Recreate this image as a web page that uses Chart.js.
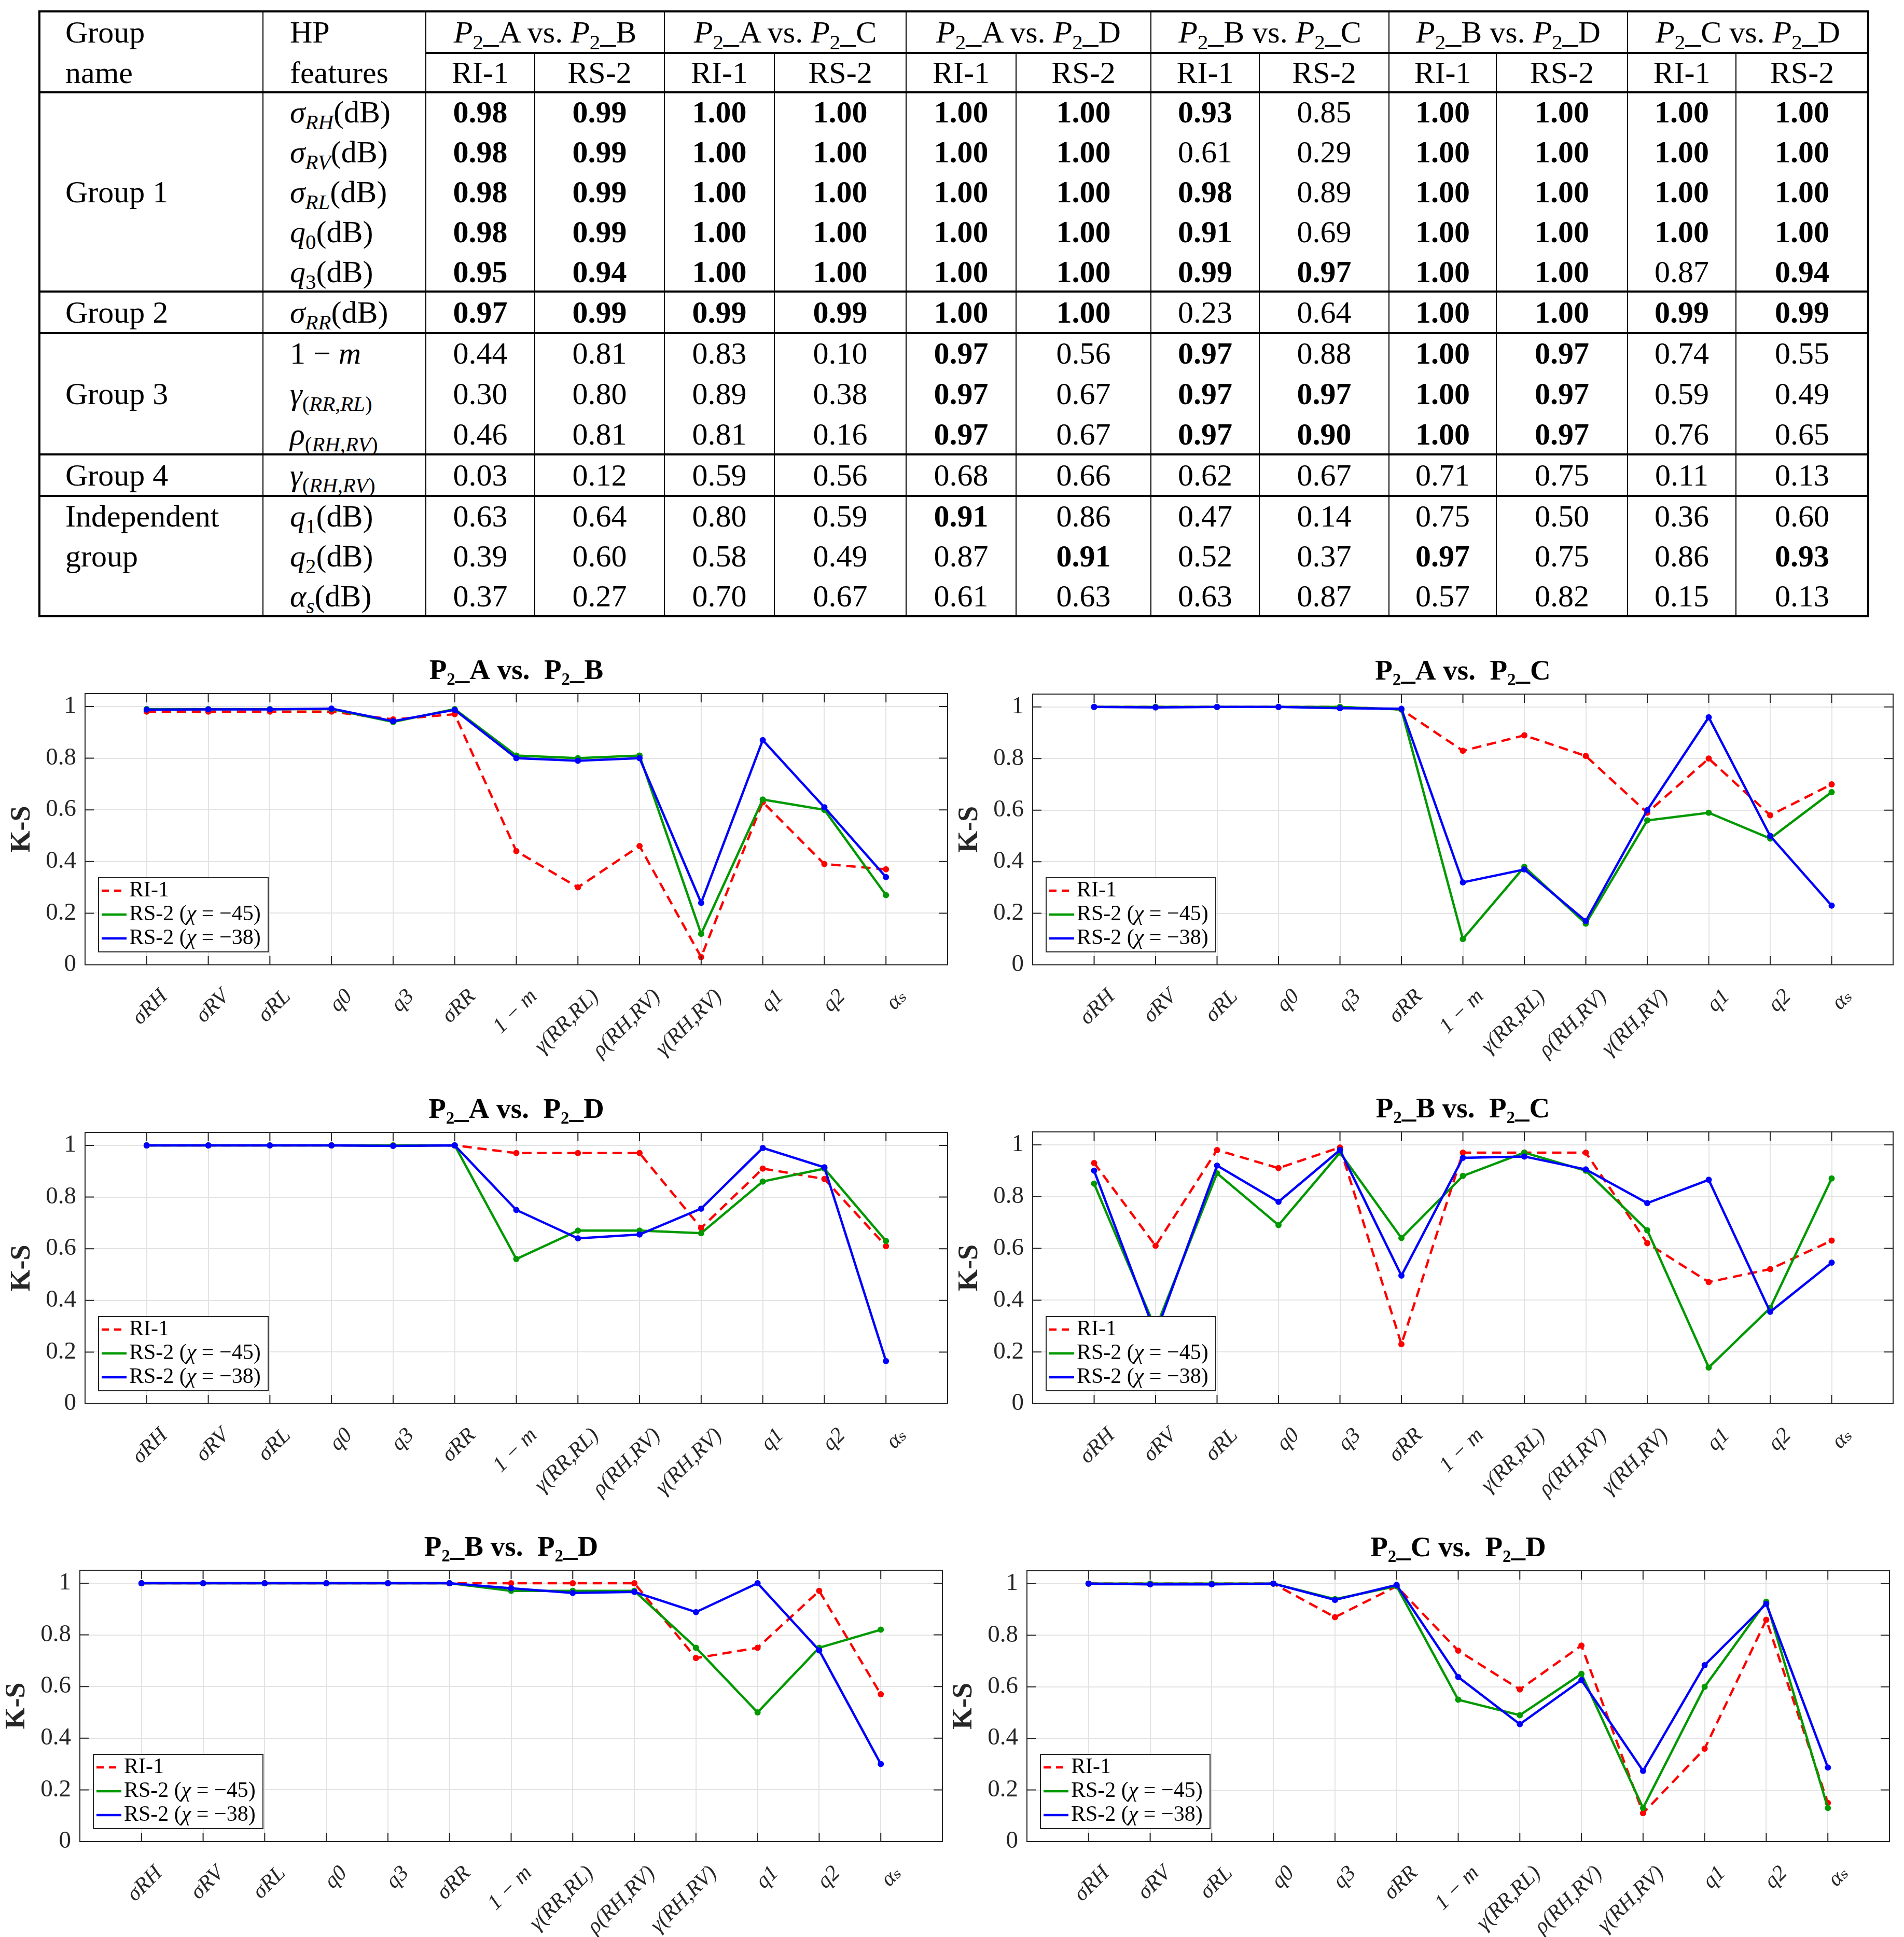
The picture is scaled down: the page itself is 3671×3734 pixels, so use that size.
<!DOCTYPE html>
<html><head><meta charset="utf-8">
<script src="https://cdn.jsdelivr.net/npm/chart.js@4.4.1/dist/chart.umd.min.js"></script>
<style>
html,body{margin:0;padding:0;background:#fff;}
#page{position:relative;width:3671px;height:3734px;overflow:hidden;font-family:'Liberation Serif','Times New Roman',Tinos,'DejaVu Serif',serif;color:#000;background:#fff;}
.cell{position:absolute;display:flex;align-items:center;justify-content:center;font-size:60px;white-space:nowrap;line-height:1;}
.cell.left{justify-content:flex-start;}
.cell.b{font-weight:bold;}
.ln{position:absolute;background:#000;}
sub{font-size:0.68em;vertical-align:-0.32em;line-height:0;}
canvas{position:absolute;}
</style></head><body><div id="page"></div>
<script>
// ---------- data ----------
const features = ['σRH','σRV','σRL','q0','q3','σRR','1 − m','γ(RR,RL)','ρ(RH,RV)','γ(RH,RV)','q1','q2','αₛ'];
const featureHtml = [
  '<i>σ</i><sub><i>RH</i></sub>(dB)','<i>σ</i><sub><i>RV</i></sub>(dB)','<i>σ</i><sub><i>RL</i></sub>(dB)',
  '<i>q</i><sub>0</sub>(dB)','<i>q</i><sub>3</sub>(dB)','<i>σ</i><sub><i>RR</i></sub>(dB)',
  '1 − <i>m</i>','<i>γ</i><sub>(<i>RR</i>,<i>RL</i>)</sub>','<i>ρ</i><sub>(<i>RH</i>,<i>RV</i>)</sub>',
  '<i>γ</i><sub>(<i>RH</i>,<i>RV</i>)</sub>','<i>q</i><sub>1</sub>(dB)','<i>q</i><sub>2</sub>(dB)','<i>α</i><sub><i>s</i></sub>(dB)'];
const groupNames = ['Group 1','Group 2','Group 3','Group 4','Independent','group'];
const groupSizes = [5,1,3,1,3];
const pairs = [['A','B'],['A','C'],['A','D'],['B','C'],['B','D'],['C','D']];
const methods = ['RI-1','RS-2'];
const seriesNames = ['RI-1','RS-2 (χ = −45)','RS-2 (χ = −38)'];
const yTicks = [0,0.2,0.4,0.6,0.8,1];

const RI1_AB  = [0.98,0.98,0.98,0.98,0.95,0.97,0.44,0.30,0.46,0.03,0.63,0.39,0.37];
const RS2_AB  = [0.99,0.99,0.99,0.99,0.94,0.99,0.81,0.80,0.81,0.12,0.64,0.60,0.27];
const RS2b_AB = [0.988,0.989,0.989,0.992,0.943,0.987,0.80,0.79,0.80,0.24,0.87,0.61,0.34];

const RI1_AC  = [1.00,1.00,1.00,1.00,1.00,0.99,0.83,0.89,0.81,0.59,0.80,0.58,0.70];
const RS2_AC  = [1.00,1.00,1.00,1.00,1.00,0.99,0.10,0.38,0.16,0.56,0.59,0.49,0.67];
const RS2b_AC = [1.00,0.998,1.00,1.00,0.995,0.993,0.32,0.37,0.17,0.60,0.96,0.50,0.23];

const RI1_AD  = [1.00,1.00,1.00,1.00,1.00,1.00,0.97,0.97,0.97,0.68,0.91,0.87,0.61];
const RS2_AD  = [1.00,1.00,1.00,1.00,1.00,1.00,0.56,0.67,0.67,0.66,0.86,0.91,0.63];
const RS2b_AD = [1.00,1.00,1.00,1.00,0.998,1.00,0.75,0.64,0.655,0.755,0.99,0.915,0.165];

const RI1_BC  = [0.93,0.61,0.98,0.91,0.99,0.23,0.97,0.97,0.97,0.62,0.47,0.52,0.63];
const RS2_BC  = [0.85,0.29,0.89,0.69,0.97,0.64,0.88,0.97,0.90,0.67,0.14,0.37,0.87];
const RS2b_BC = [0.90,0.27,0.92,0.78,0.98,0.495,0.95,0.955,0.905,0.775,0.865,0.355,0.545];

const RI1_BD  = [1.00,1.00,1.00,1.00,1.00,1.00,1.00,1.00,1.00,0.71,0.75,0.97,0.57];
const RS2_BD  = [1.00,1.00,1.00,1.00,1.00,1.00,0.97,0.97,0.97,0.75,0.50,0.75,0.82];
const RS2b_BD = [1.00,1.00,1.00,1.00,1.00,1.00,0.98,0.962,0.966,0.888,1.00,0.74,0.30];

const RI1_CD  = [1.00,1.00,1.00,1.00,0.87,0.99,0.74,0.59,0.76,0.11,0.36,0.86,0.15];
const RS2_CD  = [1.00,1.00,1.00,1.00,0.94,0.99,0.55,0.49,0.65,0.13,0.60,0.93,0.13];
const RS2b_CD = [1.00,0.997,0.997,1.00,0.937,0.995,0.638,0.455,0.626,0.274,0.684,0.922,0.287];

const RI1  = [RI1_AB, RI1_AC, RI1_AD, RI1_BC, RI1_BD, RI1_CD];
const RS2  = [RS2_AB, RS2_AC, RS2_AD, RS2_BC, RS2_BD, RS2_CD];
const RS2b = [RS2b_AB, RS2b_AC, RS2b_AD, RS2b_BC, RS2b_BD, RS2b_CD];
const boldThreshold = 0.90;

// ---------- table layout ----------
const page = document.getElementById('page');
const TX = [76, 507, 821, 1031, 1281, 1493, 1747, 1959, 2219, 2428, 2678, 2885, 3138, 3347, 3602];
const TY = [22, 102, 178];
const GB = [178, 562, 642, 876, 956, 1188];
const THICK = 3.5, THIN = 2;

function addLine(x,y,w,h){const d=document.createElement('div');d.className='ln';d.style.left=x+'px';d.style.top=y+'px';d.style.width=w+'px';d.style.height=h+'px';page.appendChild(d);}
function hLine(y,x1,x2,t){addLine(x1,y-t/2,x2-x1,t);}
function vLine(x,y1,y2,t){addLine(x-t/2,y1,t,y2-y1);}
function addCell(x1,x2,y1,y2,html,cls){
  const d=document.createElement('div');d.className='cell '+(cls||'');
  d.style.left=x1+'px';d.style.top=y1+'px';d.style.width=(x2-x1)+'px';d.style.height=(y2-y1)+'px';
  d.innerHTML='<span>'+html+'</span>';page.appendChild(d);
}
hLine(TY[0], TX[0]-THICK/2, TX[14]+THICK/2, THICK);
hLine(TY[1], TX[2], TX[14], THICK);
hLine(TY[2], TX[0], TX[14], THICK);
for(let g=1; g<GB.length; g++) hLine(GB[g], TX[0]-THICK/2, TX[14]+THICK/2, THICK);
vLine(TX[0], TY[0], GB[5], THICK);
vLine(TX[14], TY[0], GB[5], THICK);
[1,2,4,6,8,10,12].forEach(i=>vLine(TX[i], TY[0], GB[5], THIN));
[3,5,7,9,11,13].forEach(i=>vLine(TX[i], TY[1], GB[5], THIN));
addCell(TX[0]+50, TX[1], TY[0], TY[1], 'Group','left');
addCell(TX[0]+50, TX[1], TY[1], TY[2], 'name','left');
addCell(TX[1]+52, TX[2], TY[0], TY[1], 'HP','left');
addCell(TX[1]+52, TX[2], TY[1], TY[2], 'features','left');
pairs.forEach(([a,b],p)=>{
  addCell(TX[2+2*p], TX[4+2*p], TY[0], TY[1], `<i>P</i><sub>2</sub>_${a} vs. <i>P</i><sub>2</sub>_${b}`);
  methods.forEach((m,k)=>addCell(TX[2+2*p+k], TX[3+2*p+k], TY[1], TY[2], m));
});
let f = 0;
groupSizes.forEach((n,g)=>{
  const y1 = GB[g], y2 = GB[g+1], h = (y2-y1)/n;
  if (g < 4) addCell(TX[0]+50, TX[1], y1, y2, groupNames[g], 'left');
  else { addCell(TX[0]+50, TX[1], y1, y1+h, groupNames[4], 'left'); addCell(TX[0]+50, TX[1], y1+h, y1+2*h, groupNames[5], 'left'); }
  for(let r=0;r<n;r++,f++){
    const ry1 = y1+r*h, ry2 = ry1+h;
    addCell(TX[1]+52, TX[2], ry1, ry2, featureHtml[f], 'left');
    pairs.forEach((_,p)=>{
      [RI1[p][f], RS2[p][f]].forEach((v,k)=>{
        addCell(TX[2+2*p+k], TX[3+2*p+k], ry1, ry2, v.toFixed(2), v>=boldThreshold?'b':'');
      });
    });
  }
});

// ---------- charts ----------
const PLOTS = [
  [164,1827,1337,1860],[1991,3650,1338,1860],
  [164,1827,2183,2706],[1991,3650,2182,2706],
  [154,1817,3027,3550],[1980,3643,3028,3550]];
const Y_AXIS_W = 164, TOP_H = 97, X_AXIS_H = 205, RIGHT_PAD = 8;
const FONT = "'Liberation Serif','Times New Roman',Tinos,'DejaVu Serif',serif";
Chart.defaults.font.family = FONT;

const boxPlugin = {id:'box', afterDatasetsDraw(chart){
  const {ctx, chartArea:{left,right,top,bottom}, scales:{x,y}} = chart;
  ctx.save(); ctx.strokeStyle='#262626'; ctx.lineWidth=2; ctx.setLineDash([]);
  ctx.strokeRect(left,top,right-left,bottom-top);
  ctx.beginPath();
  x.ticks.forEach(t=>{const px=x.getPixelForValue(t.value); ctx.moveTo(px,bottom); ctx.lineTo(px,bottom-17); ctx.moveTo(px,top); ctx.lineTo(px,top+17);});
  y.ticks.forEach(t=>{const py=y.getPixelForValue(t.value); ctx.moveTo(left,py); ctx.lineTo(left+17,py); ctx.moveTo(right,py); ctx.lineTo(right-17,py);});
  ctx.stroke(); ctx.restore();
}};
const legendPlugin = {id:'boxLegend', afterDatasetsDraw(chart){
  const {ctx, chartArea:{left,bottom}} = chart;
  const bw=327, bh=143, bx=left+26, by=bottom-25-bh;
  ctx.save();
  ctx.fillStyle='#fff'; ctx.fillRect(bx,by,bw,bh);
  ctx.strokeStyle='#262626'; ctx.lineWidth=2; ctx.setLineDash([]); ctx.strokeRect(bx,by,bw,bh);
  chart.data.datasets.forEach((ds,i)=>{
    const yy = by+25+i*46;
    ctx.strokeStyle=ds.borderColor; ctx.lineWidth=4.5; ctx.setLineDash(ds.borderDash?[14,10]:[]);
    ctx.beginPath(); ctx.moveTo(bx+6,yy); ctx.lineTo(bx+54,yy); ctx.stroke();
    ctx.setLineDash([]);
    let tx = bx+59;
    ctx.fillStyle='#000'; ctx.textBaseline='middle'; ctx.textAlign='left';
    ds.label.split(/(χ)/).forEach(part=>{
      if(!part) return;
      ctx.font=(part==='χ'?'italic ':'')+"42px "+FONT;
      ctx.fillText(part,tx,yy); tx += ctx.measureText(part).width;
    });
  });
  ctx.restore();
}};

const pts = arr => arr.map((y,i)=>({x:i,y}));
const colors = ['#ff0000','#009900','#0000ff'];

PLOTS.forEach(([L,R,T,B],p)=>{
  const cl = L-Y_AXIS_W, ct = T-TOP_H, cw = R+RIGHT_PAD-cl, chh = B+X_AXIS_H-ct;
  const c = document.createElement('canvas');
  c.width=cw; c.height=chh; c.style.left=cl+'px'; c.style.top=ct+'px'; c.style.width=cw+'px'; c.style.height=chh+'px';
  page.appendChild(c);
  const series = [RI1[p], RS2[p], RS2b[p]];
  new Chart(c, {
    type:'line',
    data:{datasets: series.map((s,k)=>({
      label: seriesNames[k], data: pts(s),
      borderColor: colors[k], backgroundColor: colors[k], pointBackgroundColor: colors[k],
      borderWidth: 4.5, borderDash: k===0?[18,11]:undefined,
      pointRadius: 6, pointBorderWidth: 0, pointHoverRadius: 6,
      order: 3-k, tension: 0
    }))},
    options:{
      responsive:false, animation:false, devicePixelRatio:1,
      layout:{padding:{top:22,right:RIGHT_PAD,bottom:0,left:0}},
      plugins:{
        legend:{display:false}, tooltip:{enabled:false},
        title:{display:true, text:`P₂_${pairs[p][0]} vs.  P₂_${pairs[p][1]}`, fullSize:false,
          font:{family:FONT,size:55,weight:'bold'}, color:'#000', padding:{top:0,bottom:9}}
      },
      scales:{
        x:{type:'linear', min:-1, max:13,
          afterBuildTicks:s=>{s.ticks = features.map((_,i)=>({value:i}));},
          afterFit:s=>{s.height = X_AXIS_H;},
          grid:{color:'#e3e3e3', lineWidth:2, drawTicks:false}, border:{display:false},
          ticks:{autoSkip:false, minRotation:45, maxRotation:45, padding:37, labelOffset:34,
            font:{family:FONT, style:'italic', size:42}, color:'#262626',
            callback:v=>features[v]}},
        y:{min:0, max:1.05,
          afterBuildTicks:s=>{s.ticks = yTicks.map(v=>({value:v}));},
          afterFit:s=>{s.width = Y_AXIS_W;},
          grid:{color:'#e3e3e3', lineWidth:2, drawTicks:false}, border:{display:false},
          ticks:{padding:17, font:{family:FONT, size:47}, color:'#262626', callback:v=>String(v)},
          title:{display:true, text:'K-S', font:{family:FONT, size:54, weight:'bold'}, color:'#262626', padding:{top:11,bottom:0}}}
      }
    },
    plugins:[boxPlugin, legendPlugin]
  });
});
</script></body></html>
